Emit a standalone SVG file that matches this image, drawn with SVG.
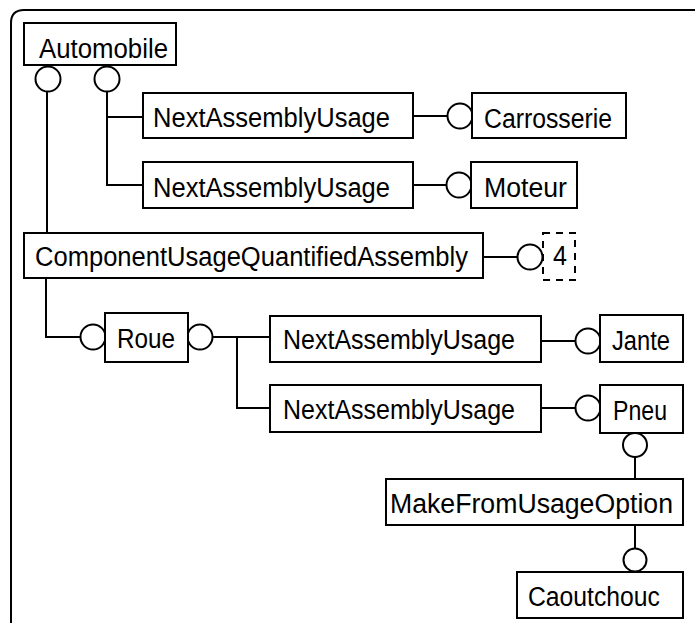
<svg xmlns="http://www.w3.org/2000/svg" width="695" height="623" viewBox="0 0 695 623">
<style>
.box{fill:#fff;stroke:#000;stroke-width:2}
.dash{fill:#fff;stroke:#000;stroke-width:2;stroke-dasharray:7 6}
.ln{fill:none;stroke:#000;stroke-width:2}
.c{fill:#fff;stroke:#000;stroke-width:2}
text{font-family:"Liberation Sans",Arial,sans-serif;font-size:27px;fill:#000}
</style>
<rect width="695" height="623" fill="#fff"/>
<path class="ln" d="M11,623 V23 Q11,10 24,10 H695"/>
<g id="connectors">
<path class="ln" d="M47,91.5 V233"/>
<path class="ln" d="M107,91.5 V185 H143 M107,117 H143"/>
<path class="ln" d="M413,116 H448"/>
<path class="ln" d="M413,185 H447"/>
<path class="ln" d="M483,257 H517"/>
<path class="ln" d="M46,278 V337 H81"/>
<path class="ln" d="M212.5,337 H270 M237,337 V408 H270"/>
<path class="ln" d="M541,341 H576"/>
<path class="ln" d="M541,408 H576"/>
<path class="ln" d="M635,457 V479"/>
<path class="ln" d="M635,525 V548"/>
<circle class="c" cx="48" cy="79" r="12.5"/>
<circle class="c" cx="107" cy="79" r="12.5"/>
<circle class="c" cx="460" cy="116" r="12.5"/>
<circle class="c" cx="459" cy="185" r="12.5"/>
<circle class="c" cx="530" cy="257" r="12.5"/>
<circle class="c" cx="93" cy="337" r="12.5"/>
<circle class="c" cx="200" cy="337" r="12.5"/>
<circle class="c" cx="588" cy="341" r="12.5"/>
<circle class="c" cx="588" cy="408" r="12.5"/>
<circle class="c" cx="635" cy="445" r="12"/>
<circle class="c" cx="635" cy="560" r="11.5"/>
</g>
<g id="automobile"><rect class="box" x="24" y="23" width="152" height="42"/><text x="39" y="58" textLength="129" lengthAdjust="spacingAndGlyphs">Automobile</text></g>
<g id="nau1"><rect class="box" x="143" y="93" width="270" height="45"/><text x="153" y="127" textLength="237" lengthAdjust="spacingAndGlyphs">NextAssemblyUsage</text></g>
<g id="carrosserie"><rect class="box" x="472" y="93" width="154" height="45"/><text x="484" y="128" textLength="128" lengthAdjust="spacingAndGlyphs">Carrosserie</text></g>
<g id="nau2"><rect class="box" x="143" y="162" width="270" height="46"/><text x="153" y="197" textLength="237" lengthAdjust="spacingAndGlyphs">NextAssemblyUsage</text></g>
<g id="moteur"><rect class="box" x="471" y="162" width="106" height="46"/><text x="484" y="197" textLength="83" lengthAdjust="spacingAndGlyphs">Moteur</text></g>
<g id="cuqa"><rect class="box" x="24" y="233" width="459" height="45"/><text x="35" y="266" textLength="433" lengthAdjust="spacingAndGlyphs">ComponentUsageQuantifiedAssembly</text></g>
<g id="quantity"><rect class="dash" x="543" y="233" width="32" height="47"/><text x="553" y="265" textLength="14" lengthAdjust="spacingAndGlyphs">4</text></g>
<g id="roue"><rect class="box" x="105" y="313" width="83" height="49"/><text x="117" y="348" textLength="58" lengthAdjust="spacingAndGlyphs">Roue</text></g>
<g id="nau3"><rect class="box" x="270" y="316" width="271" height="46"/><text x="283" y="349" textLength="232" lengthAdjust="spacingAndGlyphs">NextAssemblyUsage</text></g>
<g id="jante"><rect class="box" x="600" y="315" width="83" height="47"/><text x="612" y="350" textLength="58" lengthAdjust="spacingAndGlyphs">Jante</text></g>
<g id="nau4"><rect class="box" x="270" y="385" width="271" height="47"/><text x="283" y="419" textLength="232" lengthAdjust="spacingAndGlyphs">NextAssemblyUsage</text></g>
<g id="pneu"><rect class="box" x="600" y="385" width="83" height="48"/><text x="613" y="420" textLength="54" lengthAdjust="spacingAndGlyphs">Pneu</text></g>
<g id="makefrom"><rect class="box" x="386" y="479" width="297" height="46"/><text x="390" y="513" textLength="283" lengthAdjust="spacingAndGlyphs">MakeFromUsageOption</text></g>
<g id="caoutchouc"><rect class="box" x="517" y="572" width="166" height="46"/><text x="528" y="606" textLength="132" lengthAdjust="spacingAndGlyphs">Caoutchouc</text></g>
</svg>
